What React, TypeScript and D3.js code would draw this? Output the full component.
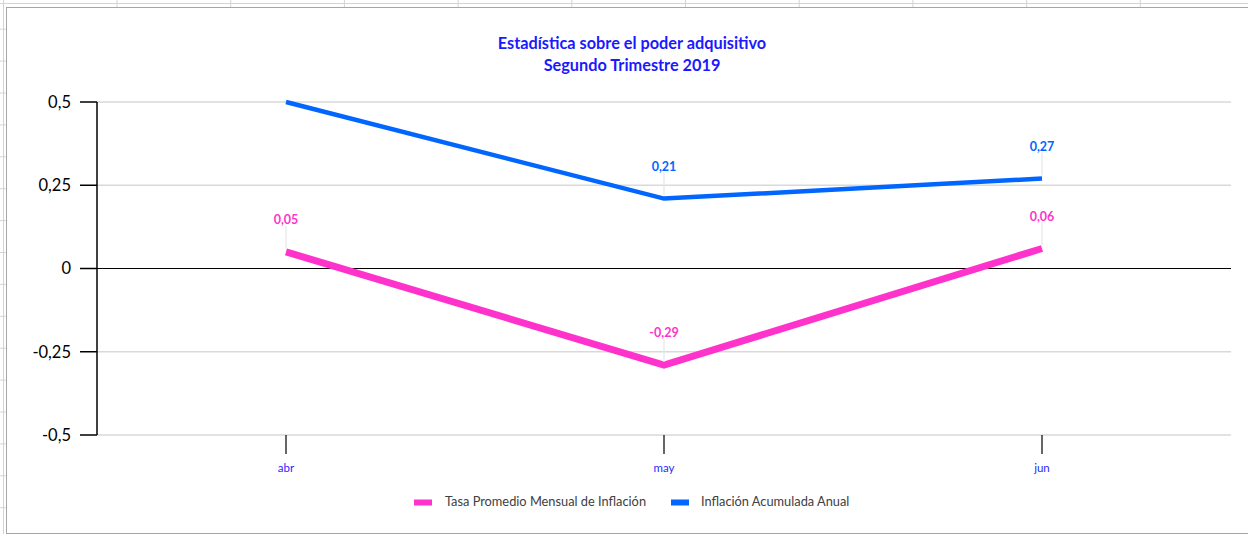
import React from 'react';
import * as d3 from 'd3';

const months = ['abr', 'may', 'jun'];
const tasaMensual = [0.05, -0.29, 0.06];
const acumuladaAnual = [0.5, 0.21, 0.27];
const acumuladaLabels = [null, '0,21', '0,27'];
const tasaLabels = ['0,05', '-0,29', '0,06'];
const yTicks = [0.5, 0.25, 0, -0.25, -0.5];
const yTickLabels = ['0,5', '0,25', '0', '-0,25', '-0,5'];

const seriesList = [
  { name: 'Tasa Promedio Mensual de Inflación', values: tasaMensual, labels: tasaLabels, color: '#ff33cc', width: 7 },
  { name: 'Inflación Acumulada Anual', values: acumuladaAnual, labels: acumuladaLabels, color: '#0066ff', width: 4.5 },
];

const W = 1248;
const H = 534;
const font = 'Lato, "Noto Sans", sans-serif';

export default function App() {
  const plot = { left: 97, right: 1231, top: 102, bottom: 435 };

  const x = d3.scaleBand<string>().domain(months).range([plot.left, plot.right]);
  const cx = (m: string) => (x(m) ?? 0) + x.bandwidth() / 2;
  const y = d3.scaleLinear().domain([-0.5, 0.5]).range([plot.bottom, plot.top]);

  const line = (vals: number[]) =>
    d3.line<number>().x((_, i) => cx(months[i])).y(d => y(d))(vals) ?? '';

  // spreadsheet grid behind the chart
  const colLines = d3.range(0, 10).map(k => 117 + k * 113.7);
  const rowLines = d3.range(-2, 14).map(k => 93 + k * 31.9);

  return (
    <svg width={W} height={H} style={{ position: 'fixed', left: 0, top: 0, background: '#fff' }}>
      {/* sheet background */}
      <rect x={0} y={0} width={W} height={H} fill="#ffffff" />
      {colLines.map((cxl, i) => (
        <line key={'c' + i} x1={cxl} x2={cxl} y1={0} y2={7} stroke="#d4d4d4" />
      ))}
      {rowLines.map((ry, i) => (
        <line key={'r' + i} x1={0} x2={7} y1={ry} y2={ry} stroke="#d4d4d4" />
      ))}
      <line x1={0} x2={W} y1={3.5} y2={3.5} stroke="#d4d4d4" />
      <line x1={3.5} x2={3.5} y1={0} y2={H} stroke="#d4d4d4" />
      <rect x={6.5} y={7.5} width={W + 10} height={H - 8} fill="#ffffff" stroke="#a6a6a6" />

      {/* title */}
      <text x={632} y={49} textAnchor="middle" fill="#1a1aff" fontFamily={font} fontWeight="bold" fontSize={16.3}>
        Estadística sobre el poder adquisitivo
      </text>
      <text x={632} y={71} textAnchor="middle" fill="#1a1aff" fontFamily={font} fontWeight="bold" fontSize={16.3}>
        Segundo Trimestre 2019
      </text>

      {/* gridlines */}
      {yTicks.map(t => (
        <line
          key={'g' + t}
          x1={plot.left}
          x2={plot.right}
          y1={y(t)}
          y2={y(t)}
          stroke={t === 0 ? '#000000' : '#d9d9d9'}
          strokeWidth={t === 0 ? 1.2 : 1.5}
        />
      ))}

      {/* y axis */}
      <line x1={plot.left} x2={plot.left} y1={y(0.5)} y2={y(-0.5)} stroke="#000" strokeWidth={1.5} />
      {yTicks.map((t, i) => (
        <g key={'yt' + t}>
          <line x1={80} x2={plot.left} y1={y(t)} y2={y(t)} stroke="#000" strokeWidth={1.5} />
          <text x={71} y={y(t)} dy="0.35em" textAnchor="end" fontFamily={font} fontSize={16.5} fill="#000">
            {yTickLabels[i]}
          </text>
        </g>
      ))}

      {/* x axis ticks */}
      {months.map(m => (
        <g key={'xt' + m}>
          <line x1={cx(m)} x2={cx(m)} y1={plot.bottom} y2={454} stroke="#000" strokeWidth={1.2} />
          <text x={cx(m)} y={472} textAnchor="middle" fontFamily={font} fontSize={11.5} fill="#2a2aff">
            {m}
          </text>
        </g>
      ))}

      {/* series lines */}
      {seriesList.map(s => (
        <path key={s.name} d={line(s.values)} fill="none" stroke={s.color} strokeWidth={s.width} />
      ))}

      {/* data labels with leader lines */}
      {seriesList.map(s =>
        s.values.map((v, i) =>
          s.labels[i] ? (
            <g key={s.name + i}>
              <line
                x1={cx(months[i])}
                x2={cx(months[i])}
                y1={y(v) - 26}
                y2={y(v) - 3}
                stroke="#e6e6e6"
                strokeWidth={1.2}
              />
              <text
                x={cx(months[i])}
                y={y(v) - 28}
                textAnchor="middle"
                fontFamily={font}
                fontWeight="bold"
                fontSize={12.5}
                fill={s.color}
              >
                {s.labels[i]}
              </text>
            </g>
          ) : null
        )
      )}

      {/* legend */}
      <rect x={414} y={499.5} width={18} height={6} fill={seriesList[0].color} />
      <text x={445} y={506} fontFamily={font} fontSize={12.8} fill="#404040">
        {seriesList[0].name}
      </text>
      <rect x={671} y={499.5} width={18} height={6} fill={seriesList[1].color} />
      <text x={701} y={506} fontFamily={font} fontSize={12.8} fill="#404040">
        {seriesList[1].name}
      </text>
    </svg>
  );
}
